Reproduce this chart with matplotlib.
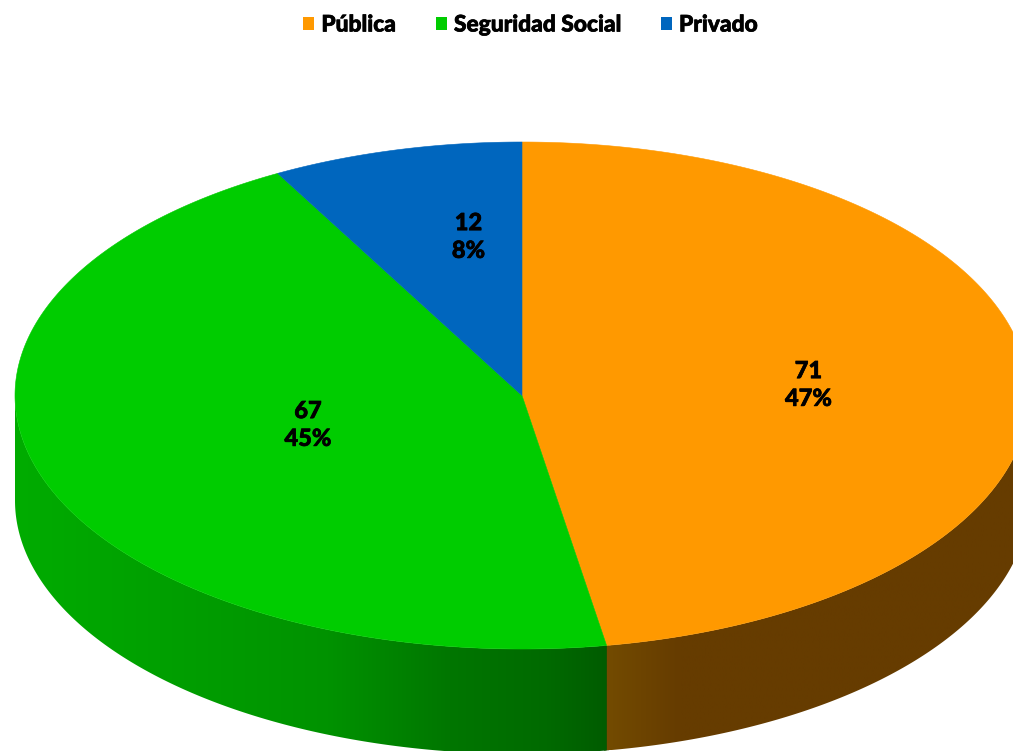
"""3D style pie chart: establishments by sector."""

import matplotlib
matplotlib.use("Agg")
import matplotlib.patheffects as pe
import matplotlib.pyplot as plt
import numpy as np
from matplotlib.colors import LinearSegmentedColormap
from matplotlib.patches import Patch, Polygon

categories = ["Pública", "Seguridad Social", "Privado"]
values = [71, 67, 12]
colors = ["#FF9900", "#00CC00", "#0066BE"]

# pie geometry in pixels
CX, CY = 522, 395.5
RX, RY = 507, 253.5
DEPTH = 105

# label centres in pixels, same order as categories
label_pos = [(808.5, 384.5), (308, 424.5), (468.5, 236.5)]

side_cmaps = [
    LinearSegmentedColormap.from_list("o", [(0, "#734B00"), (0.17, "#663C00"), (1, "#663C00")]),
    LinearSegmentedColormap.from_list(
        "g", [(0, "#00AC00"), (0.53, "#009200"), (0.735, "#007600"), (0.9, "#006A00"), (1, "#005C00")]
    ),
]

plt.rcParams["font.family"] = ["Lato", "DejaVu Sans"]


def rim(a0, a1, n=300):
    # angles clockwise from 12 o'clock, projected on the ellipse
    t = np.radians(np.linspace(a0, a1, n))
    return CX + RX * np.sin(t), CY - RY * np.cos(t)


fig = plt.figure(figsize=(10.13, 7.51), dpi=100)
ax = fig.add_axes([0, 0, 1, 1])
ax.set_xlim(0, 1013)
ax.set_ylim(751, 0)
ax.axis("off")

total = sum(values)
edges = np.concatenate([[0], np.cumsum(values) / total * 360])

# --- side walls, only the front half shows ---
# strip under the seam so no white hairline shows between the two walls
sx, sy = rim(edges[1] - 0.3, edges[1] + 0.3, n=10)
ax.fill(np.r_[sx, sx[::-1]], np.r_[sy, sy[::-1] + DEPTH], color="#2F4C00", lw=0, zorder=0)

spans = [(90, edges[1]), (edges[1], 270)]
for (a0, a1), cmap in zip(spans, side_cmaps):
    x, y = rim(a0, a1)
    xs = np.concatenate([x, x[::-1]])
    ys = np.concatenate([y, y[::-1] + DEPTH])
    poly = Polygon(np.column_stack([xs, ys]), closed=True, fc="none", ec="none")
    ax.add_patch(poly)
    grad = np.linspace(0, 1, 256).reshape(1, -1)
    im = ax.imshow(grad, cmap=cmap, aspect="auto", zorder=1,
                   extent=[x.min(), x.max(), y.max() + DEPTH, y.min()], interpolation="bilinear")
    im.set_clip_path(poly)
ax.set_xlim(0, 1013)
ax.set_ylim(751, 0)

# --- top face ---
for i, color in enumerate(colors):
    x, y = rim(edges[i], edges[i + 1])
    ax.fill(np.r_[CX, x], np.r_[CY, y], fc=color, ec=color, lw=0.4, zorder=3)

heavy = [pe.withStroke(linewidth=0.5, foreground="black")]
for value, (lx, ly) in zip(values, label_pos):
    pct = round(value / total * 100)
    ax.text(lx, ly, f"{value}\n{pct}%", ha="center", va="center", fontsize=17,
            fontweight="black", linespacing=1.25, color="black", zorder=4, path_effects=heavy)

handles = [Patch(fc=c, ec="none") for c in colors]
leg = fig.legend(handles, categories, loc="upper center", bbox_to_anchor=(0.5235, 1.008), ncol=3,
                 frameon=False, handlelength=0.5, handleheight=0.48,
                 handletextpad=0.3, columnspacing=1.75,
                 prop={"family": "Lato", "weight": "black", "size": 16.4})
for t in leg.get_texts():
    t.set_path_effects(heavy)

fig.savefig("out.png", dpi=100)
